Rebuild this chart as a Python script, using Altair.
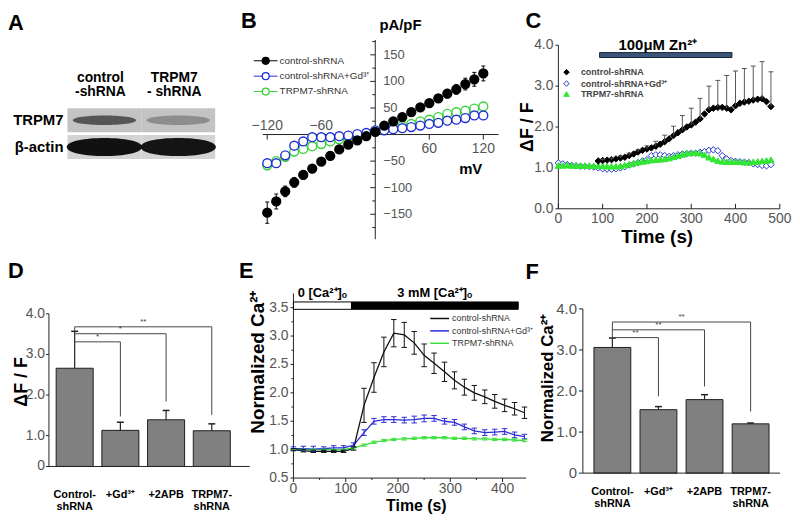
import altair as alt
import pandas as pd

FONT = "Liberation Sans"
INK = "#222222"
GREY = "#555555"

# ======================= data =======================
# A: western blot
blot_lanes = ["control\n-shRNA", "TRPM7\n- shRNA"]
blot_rows = ["TRPM7", "β-actin"]
blot_trpm7_density = [0.62, 0.30]
blot_actin_density = [0.97, 0.95]

# B: I-V relation
iv_names = ["control-shRNA", "control-shRNA+Gd³⁺", "TRPM7-shRNA"]
iv_mv = [-120, -110, -100, -90, -80, -70, -60, -50, -40, -30, -20, -10, 0,
         10, 20, 30, 40, 50, 60, 70, 80, 90, 100, 110, 120]
iv_ctrl = [-147, -126, -107, -90, -76, -64, -51, -40, -28, -19, -11, -3, 5,
           17, 25, 33, 42, 51, 59, 68, 77, 85, 95, 104, 115]
iv_ctrl_err = [20, 14, 10, 9, 8, 6, 5, 4, 3, 3, 2, 2, 2, 2, 3, 3, 4, 4, 5, 7, 8, 9, 11, 13, 14]
iv_gd = [-54, -54, -39, -21, -13, -5, -5, -5, -3, -2, 1, 3, 8,
         8, 10, 12, 14, 17, 20, 22, 26, 28, 31, 36, 36]
iv_gd_err = [6, 5, 4, 3, 3, 2, 2, 2, 2, 2, 2, 2, 2, 2, 2, 2, 2, 2, 2, 3, 3, 3, 3, 3, 4]
iv_trpm7 = [-58, -50, -42, -32, -27, -22, -18, -13, -9, -6, -3, 1, 6,
            11, 14, 16, 20, 25, 28, 33, 39, 42, 45, 49, 53]
iv_trpm7_err = [8, 6, 5, 4, 3, 3, 2, 2, 2, 2, 2, 2, 2, 2, 2, 2, 2, 2, 3, 3, 3, 3, 3, 4, 4]
iv_yticks = [-150, -100, -50, 50, 100, 150]
iv_yminor = [-175, -125, -75, -25, 25, 75, 125, 175]
iv_xlabels_above = [-120, -60]
iv_xlabels_below = [60, 120]
iv_units = ["pA/pF", "mV"]
iv_units_mv = [28, 106]
iv_units_pa = [206, -64]

# C: Zn2+ induced fluorescence
c_names = ["control-shRNA", "control-shRNA+Gd³⁺", "TRPM7-shRNA"]
c_t = [0, 10, 20, 30, 40, 50, 60, 70, 80, 90, 100, 110, 120, 130, 140, 150, 160, 170, 180, 190,
       200, 210, 220, 230, 240, 250, 260, 270, 280, 290, 300, 310, 320, 330, 340, 350, 360, 370,
       380, 390, 400, 410, 420, 430, 440, 450, 460, 470, 480]
c_gd = [1.12, 1.10, 1.08, 1.06, 1.05, 1.04, 1.04, 1.03, 1.02, 1.00, 0.98, 0.97, 0.97, 0.98, 1.00,
        1.03, 1.07, 1.10, 1.13, 1.17, 1.20, 1.30, 1.32, 1.32, 1.30, 1.28, 1.30, 1.32, 1.34, 1.35,
        1.36, 1.36, 1.38, 1.40, 1.43, 1.44, 1.42, 1.30, 1.22, 1.18, 1.16, 1.15, 1.14, 1.13, 1.10,
        1.08, 1.06, 1.05, 1.08]
c_trpm7 = [1.06, 1.06, 1.07, 1.06, 1.06, 1.06, 1.06, 1.06, 1.05, 1.05, 1.05, 1.04, 1.04, 1.04,
           1.05, 1.07, 1.09, 1.12, 1.14, 1.16, 1.17, 1.19, 1.20, 1.21, 1.22, 1.24, 1.27, 1.30,
           1.33, 1.36, 1.37, 1.37, 1.36, 1.32, 1.26, 1.22, 1.18, 1.16, 1.15, 1.15, 1.15, 1.15,
           1.14, 1.14, 1.15, 1.16, 1.17, 1.18, 1.20]
c_ctrl_t = [90, 100, 110, 120, 130, 140, 150, 160, 170, 180, 190, 200, 210, 220, 230, 240, 250,
            260, 270, 280, 290, 300, 310, 320, 330, 340, 350, 360, 370, 380, 390, 400, 410, 420,
            430, 440, 450, 460, 470, 480]
c_ctrl = [1.17, 1.18, 1.19, 1.20, 1.22, 1.24, 1.26, 1.30, 1.34, 1.39, 1.43, 1.46, 1.49, 1.53,
          1.58, 1.64, 1.71, 1.79, 1.86, 1.93, 2.00, 2.05, 2.12, 2.20, 2.32, 2.42, 2.46, 2.48,
          2.48, 2.46, 2.42, 2.52, 2.58, 2.61, 2.63, 2.66, 2.68, 2.69, 2.62, 2.50]
c_err_t = [100, 120, 140, 160, 180, 200, 220, 240, 260, 280, 300, 320, 340, 360, 380, 400, 420,
           440, 460, 480]
c_err_top = [1.21, 1.24, 1.29, 1.36, 1.45, 1.54, 1.65, 1.80, 2.02, 2.28, 2.46, 2.70, 3.00, 3.14,
             3.26, 3.37, 3.43, 3.49, 3.60, 3.35]
c_zn = {"start": [93], "end": [392], "label": ["100μM Zn²⁺"]}
c_xticks = [0, 100, 200, 300, 400, 500]
c_xlabels = ["0", "100", "200", "300", "400", "500"]
c_yticks = [0, 1, 2, 3, 4]
c_ylabels = ["0.0", "1.0", "2.0", "3.0", "4.0"]

# D / F: summaries
bar_cats = ["Control-\nshRNA", "+Gd³⁺", "+2APB", "TRPM7-\nshRNA"]
d_vals = [2.66, 1.13, 1.39, 1.12]
d_tops = [3.57, 1.33, 1.62, 1.29]
d_br_targets = ["+Gd³⁺", "+2APB", "TRPM7-\nshRNA"]
d_br_levels = [3.31, 3.51, 3.68]
d_br_ends = [1.47, 1.84, 1.51]
d_br_marks = ["*", "*", "**"]
d_yticks = [0.24, 1, 2, 3, 4]
d_ylabels = ["0", "1.0", "2.0", "3.0", "4.0"]

f_vals = [3.06, 1.545, 1.79, 1.20]
f_tops = [3.29, 1.62, 1.91, 1.22]
f_br_targets = ["+Gd³⁺", "+2APB", "TRPM7-\nshRNA"]
f_br_levels = [3.30, 3.49, 3.68]
f_br_ends = [1.87, 2.11, 1.50]
f_br_marks = ["**", "**", "**"]
f_yticks = [0, 1, 2, 3, 4]
f_ylabels = ["0", "1.0", "2.0", "3.0", "4.0"]

# E: Ca2+ add-back
e_names = ["control-shRNA", "control-shRNA+Gd³⁺", "TRPM7-shRNA"]
e_t = [0, 19, 38, 58, 77, 96, 115, 135, 154, 173, 192, 212, 231, 250, 269, 289, 308, 327, 346,
       366, 385, 404, 423, 442]
e_ctrl = [1.00, 0.98, 0.97, 0.97, 0.97, 0.97, 1.02, 1.78, 2.27, 2.72, 3.05, 3.02, 2.88, 2.66,
          2.52, 2.37, 2.22, 2.10, 2.00, 1.93, 1.85, 1.78, 1.72, 1.65]
e_ctrl_err = [0.02, 0.02, 0.02, 0.02, 0.02, 0.02, 0.03, 0.30, 0.26, 0.26, 0.24, 0.22, 0.20, 0.20,
              0.18, 0.17, 0.15, 0.14, 0.13, 0.12, 0.12, 0.11, 0.11, 0.10]
e_gd = [1.02, 1.02, 1.01, 1.02, 1.03, 1.03, 1.08, 1.30, 1.50, 1.53, 1.53, 1.52, 1.53, 1.55, 1.55,
        1.50, 1.48, 1.40, 1.33, 1.30, 1.31, 1.32, 1.26, 1.23]
e_gd_err = [0.03, 0.04, 0.05, 0.03, 0.04, 0.04, 0.04, 0.05, 0.05, 0.05, 0.05, 0.05, 0.06, 0.06,
            0.05, 0.05, 0.05, 0.05, 0.05, 0.05, 0.05, 0.05, 0.05, 0.04]
e_trpm7 = [1.00, 1.00, 1.00, 1.00, 1.00, 1.00, 1.03, 1.08, 1.13, 1.16, 1.18, 1.19, 1.20, 1.21,
           1.21, 1.21, 1.20, 1.20, 1.19, 1.19, 1.18, 1.18, 1.17, 1.16]
e_trpm7_err = [0.01, 0.01, 0.01, 0.01, 0.01, 0.01, 0.02, 0.02, 0.02, 0.02, 0.02, 0.02, 0.02,
               0.02, 0.02, 0.02, 0.02, 0.02, 0.02, 0.02, 0.02, 0.02, 0.02, 0.02]
e_cond = {"start": [0, 111], "end": [111, 430],
          "kind": ["0 [Ca²⁺]ₒ", "3 mM  [Ca²⁺]ₒ"]}
e_xticks = [0, 100, 200, 300, 400]
e_xlabels = ["0", "100", "200", "300", "400"]
e_xminor = [50, 150, 250, 350]
e_yticks = [0.5, 1.0, 1.5, 2.0, 2.5, 3.0, 3.5]
e_ylabels = ["0.5", "1.0", "1.5", "2.0", "2.5", "3.0", "3.5"]
e_yminor = [0.75, 1.25, 1.75, 2.25, 2.75, 3.25]

SERIES_STROKE = ["#000000", "#1f2fd2", "#36d236"]


# ======================= helpers =======================
def letter(txt, px, py):
    return alt.Chart(pd.DataFrame({"t": [txt]})).mark_text(
        align="left", baseline="top", font=FONT, fontSize=22, fontWeight="bold", color="black").encode(
        x=alt.value(px), y=alt.value(py), text="t:N")


def title_text(txt, px, py, size, angle=0):
    return alt.Chart(pd.DataFrame({"t": [txt]})).mark_text(
        align="center", baseline="middle", angle=angle, font=FONT, fontSize=size, fontWeight="bold",
        color="black").encode(x=alt.value(px), y=alt.value(py), text="t:N")


def axis_layers(X, Y, xdom, ydom, xt, xl, yt, yl, xtick=4, xtick_out=True, ytick=4,
                lab_size=14, xpad=2, ypad=2, xminor=None, yminor=None):
    fr = pd.DataFrame({"x0": [xdom[0]], "x1": [xdom[1]], "y0": [ydom[0]], "y1": [ydom[1]]})
    lay = [alt.Chart(fr).mark_rule(color=INK, strokeWidth=1).encode(x=X("x0"), x2=alt.X2("x1"), y=Y("y0")),
           alt.Chart(fr).mark_rule(color=INK, strokeWidth=1).encode(x=X("x0"), y=Y("y0"), y2=alt.Y2("y1"))]
    xdf = pd.DataFrame({"v": xt, "lab": xl, "y0": ydom[0]})
    ydf = pd.DataFrame({"v": yt, "lab": yl, "x0": xdom[0]})
    sign = 1 if xtick_out else -1
    if xtick:
        lay.append(alt.Chart(xdf).mark_point(shape="stroke", angle=90, size=xtick * xtick, color=INK,
                                             opacity=1, strokeWidth=1, yOffset=sign * xtick / 2).encode(
            x=X("v"), y=Y("y0")))
    if xminor:
        mdf = pd.DataFrame({"v": xminor, "y0": ydom[0]})
        lay.append(alt.Chart(mdf).mark_point(shape="stroke", angle=90, size=4, color=INK, opacity=1,
                                             strokeWidth=1, yOffset=sign * 1).encode(x=X("v"), y=Y("y0")))
    lay.append(alt.Chart(xdf).mark_text(baseline="top", align="center", dy=(xtick if xtick_out else 0) + xpad,
                                        font=FONT, fontSize=lab_size, color=GREY).encode(
        x=X("v"), y=Y("y0"), text="lab:N"))
    if ytick:
        lay.append(alt.Chart(ydf).mark_point(shape="stroke", size=ytick * ytick, color=INK, opacity=1,
                                             strokeWidth=1, xOffset=-ytick / 2).encode(x=X("x0"), y=Y("v")))
    if yminor:
        mdf = pd.DataFrame({"v": yminor, "x0": xdom[0]})
        lay.append(alt.Chart(mdf).mark_point(shape="stroke", size=4, color=INK, opacity=1,
                                             strokeWidth=1, xOffset=-1).encode(x=X("x0"), y=Y("v")))
    lay.append(alt.Chart(ydf).mark_text(baseline="middle", align="right", dx=-(ytick + ypad),
                                        font=FONT, fontSize=lab_size, color=GREY).encode(
        x=X("x0"), y=Y("v"), text="lab:N"))
    return lay


# ======================= panel A =======================
blot_df = pd.DataFrame({
    "lane": blot_lanes * 2,
    "row": [blot_rows[0]] * 2 + [blot_rows[1]] * 2,
    "dark": blot_trpm7_density + blot_actin_density,
})
lane_sc = alt.Scale(type="band", domain=blot_lanes, range=[60, 209], paddingInner=0, paddingOuter=0)
row_sc = alt.Scale(type="band", domain=blot_rows, range=[98, 149], paddingInner=0.11, paddingOuter=0)
a_x = alt.X("lane:N", scale=lane_sc, sort=blot_lanes, axis=None)
a_y = alt.Y("row:N", scale=row_sc, sort=blot_rows, axis=None)
strip = alt.Chart(blot_df).mark_rect().encode(
    x=a_x, y=a_y,
    fill=alt.Fill("row:N", scale=alt.Scale(domain=blot_rows, range=["#c3c3c3", "#d3d3d3"]), legend=None))
ELL_THIN = "M-1,0C-1,-0.2,1,-0.2,1,0C1,0.2,-1,0.2,-1,0Z"
ELL_THICK = "M-1,0C-1,-0.32,1,-0.32,1,0C1,0.32,-1,0.32,-1,0Z"
band_t = alt.Chart(blot_df).transform_filter(alt.datum.row == blot_rows[0]).mark_point(
    shape=ELL_THIN, filled=True, size=64 * 64, color="#111111", strokeWidth=0).encode(
    x=a_x, y=a_y, opacity=alt.Opacity("dark:Q", scale=None))
band_a = alt.Chart(blot_df).transform_filter(alt.datum.row == blot_rows[1]).mark_point(
    shape=ELL_THICK, filled=True, size=76 * 76, color="#0a0a0a", strokeWidth=0).encode(
    x=a_x, y=a_y, opacity=alt.Opacity("dark:Q", scale=None))
lane_lab = alt.Chart(pd.DataFrame({"lane": blot_lanes})).mark_text(
    align="center", baseline="top", lineBreak="\n", lineHeight=15, font=FONT, fontSize=14,
    fontWeight="bold", color="black", dx=-4).encode(x=a_x, y=alt.value(60), text="lane:N")
row_lab = alt.Chart(pd.DataFrame({"row": blot_rows})).mark_text(
    align="right", baseline="middle", font=FONT, fontSize=15, fontWeight="bold", color="black").encode(
    x=alt.value(56), y=a_y, text="row:N")
panel_a = alt.layer(strip, band_t, band_a, lane_lab, row_lab, letter("A", 0, 2)).properties(
    width=262, height=250)

# ======================= panel B =======================
BX_DOM = [-125, 137]
BY_DOM = [-197, 178]
BX = alt.Scale(domain=BX_DOM, range=[-5, 233], nice=False, zero=False)
BY = alt.Scale(domain=BY_DOM, range=[230, 29], nice=False, zero=False)


def bx(f):
    return alt.X(f, type="quantitative", scale=BX, axis=None)


def by(f):
    return alt.Y(f, type="quantitative", scale=BY, axis=None)


b_rows = []
for name, vals, errs in [(iv_names[2], iv_trpm7, iv_trpm7_err), (iv_names[1], iv_gd, iv_gd_err),
                         (iv_names[0], iv_ctrl, iv_ctrl_err)]:
    for mv, v, e in zip(iv_mv, vals, errs):
        b_rows.append({"mv": mv, "val": v, "lo": v - e, "hi": v + e, "series": name})
b_df = pd.DataFrame(b_rows)
b_frame = pd.DataFrame({"x0": [BX_DOM[0]], "x1": [BX_DOM[1]], "y0": [BY_DOM[0]], "y1": [BY_DOM[1]],
                        "zero": [0]})

b_xline = alt.Chart(b_frame).mark_rule(color=INK, strokeWidth=1).encode(x=bx("x0"), x2="x1", y=by("zero"))
b_yline = alt.Chart(b_frame).mark_rule(color=INK, strokeWidth=1).encode(x=bx("zero"), y=by("y0"), y2="y1")
b_yt_df = pd.DataFrame({"v": iv_yticks, "zero": 0})
b_ym_df = pd.DataFrame({"v": iv_yminor, "zero": 0})
b_ytk = alt.Chart(b_yt_df).mark_point(shape="stroke", size=25, color=INK, opacity=1, strokeWidth=1,
                                      xOffset=-2.5).encode(x=bx("zero"), y=by("v"))
b_ymn = alt.Chart(b_ym_df).mark_point(shape="stroke", size=9, color=INK, opacity=1, strokeWidth=1,
                                      xOffset=-1.5).encode(x=bx("zero"), y=by("v"))
b_ylab = alt.Chart(b_yt_df).mark_text(align="left", baseline="middle", dx=8, font=FONT, fontSize=13,
                                      color=GREY).encode(x=bx("zero"), y=by("v"), text=alt.Text("v:Q"))
b_xa_df = pd.DataFrame({"v": iv_xlabels_above, "zero": 0})
b_xb_df = pd.DataFrame({"v": iv_xlabels_below, "zero": 0})
b_xlab_a = alt.Chart(b_xa_df).mark_text(align="center", baseline="bottom", dy=-2, font=FONT, fontSize=14,
                                        color=GREY).encode(x=bx("v"), y=by("zero"), text=alt.Text("v:Q"))
b_xlab_b = alt.Chart(b_xb_df).mark_text(align="center", baseline="top", dy=8, font=FONT, fontSize=14,
                                        color=GREY).encode(x=bx("v"), y=by("zero"), text=alt.Text("v:Q"))
b_xtk = alt.Chart(pd.concat([b_xa_df, b_xb_df], ignore_index=True)).mark_point(
    shape="stroke", angle=90, size=25, color=INK, opacity=1, strokeWidth=1, yOffset=2.5).encode(
    x=bx("v"), y=by("zero"))
b_units_df = pd.DataFrame({"t": iv_units, "ux": iv_units_mv, "uy": iv_units_pa})
b_units = alt.Chart(b_units_df).mark_text(font=FONT, fontSize=15, fontWeight="bold", color="black").encode(
    x=bx("ux"), y=by("uy"), text="t:N")

b_color = alt.Color("series:N", scale=alt.Scale(domain=iv_names, range=SERIES_STROKE), legend=None)
b_stroke = alt.Stroke("series:N", scale=alt.Scale(domain=iv_names, range=SERIES_STROKE), legend=None)
b_fill = alt.Fill("series:N", scale=alt.Scale(domain=iv_names, range=["#000000", "#ffffff", "#ffffff"]),
                  legend=None)
b_err = alt.Chart(b_df).mark_rule(strokeWidth=1).encode(x=bx("mv"), y=by("lo"), y2="hi", color=b_color)
b_cap1 = alt.Chart(b_df).mark_point(shape="stroke", size=16, opacity=1, strokeWidth=1).encode(
    x=bx("mv"), y=by("lo"), color=b_color)
b_cap2 = alt.Chart(b_df).mark_point(shape="stroke", size=16, opacity=1, strokeWidth=1).encode(
    x=bx("mv"), y=by("hi"), color=b_color)
b_pts = alt.Chart(b_df).mark_point(size=80, strokeWidth=1.4, opacity=1).encode(
    x=bx("mv"), y=by("val"), stroke=b_stroke, fill=b_fill)

LEGY = alt.Scale(type="point", domain=iv_names, range=[50, 81], padding=0)
b_leg_df = pd.DataFrame({"series": iv_names})
b_leg_y = alt.Y("series:N", scale=LEGY, axis=None, sort=iv_names)
b_leg_line = alt.Chart(b_leg_df).mark_rule(strokeWidth=1).encode(
    x=alt.value(-14), x2=alt.value(10), y=b_leg_y, color=b_color)
b_leg_pt = alt.Chart(b_leg_df).mark_point(size=49, strokeWidth=1.3, opacity=1).encode(
    x=alt.value(-2), y=b_leg_y, stroke=b_stroke, fill=b_fill)
b_leg_txt = alt.Chart(b_leg_df).mark_text(align="left", baseline="middle", font=FONT, fontSize=10,
                                          color="#333333").encode(x=alt.value(12), y=b_leg_y, text="series:N")
b_main = alt.layer(b_xline, b_yline, b_ytk, b_ymn, b_xtk, b_ylab, b_xlab_a, b_xlab_b, b_units,
                   b_err, b_cap1, b_cap2, b_pts)
b_legend = alt.layer(b_leg_line, b_leg_pt, b_leg_txt)
panel_b = alt.layer(b_main, b_legend, letter("B", -27, 0)).resolve_scale(y="independent").properties(
    width=260, height=250)

# ======================= panel C =======================
CX = alt.Scale(domain=[0, 500], range=[33.3, 256.7], nice=False, zero=False)
CY = alt.Scale(domain=[0, 4], range=[199.3, 34.3], nice=False, zero=False)
c_rows = []
for t, v in zip(c_t, c_gd):
    c_rows.append({"t": t, "val": v, "series": c_names[1]})
for t, v in zip(c_t, c_trpm7):
    c_rows.append({"t": t, "val": v, "series": c_names[2]})
for t, v in zip(c_ctrl_t, c_ctrl):
    c_rows.append({"t": t, "val": v, "series": c_names[0]})
c_df = pd.DataFrame(c_rows)
ctrl_lookup = dict(zip(c_ctrl_t, c_ctrl))
c_err_df = pd.DataFrame({"t": c_err_t, "top": c_err_top, "mean": [ctrl_lookup[t] for t in c_err_t]})
zn_df = pd.DataFrame(c_zn)
zn_df["mid"] = (zn_df["start"] + zn_df["end"]) / 2


def cx(f):
    return alt.X(f, type="quantitative", scale=CX, axis=None)


def cy(f):
    return alt.Y(f, type="quantitative", scale=CY, axis=None)


c_leg = alt.Legend(orient="none", legendX=37, legendY=57, title=None, symbolSize=30,
                   symbolStrokeWidth=1, labelFont=FONT, labelFontSize=9, labelFontWeight="bold",
                   labelColor="#444444", labelOffset=10, rowPadding=0.5, padding=0)
c_pts = alt.Chart(c_df).mark_point(size=42, strokeWidth=1, opacity=1).encode(
    x=cx("t"), y=cy("val"),
    stroke=alt.Stroke("series:N", scale=alt.Scale(domain=c_names, range=["#000000", "#2233cc", "#33e633"]),
                      legend=c_leg),
    fill=alt.Fill("series:N", scale=alt.Scale(domain=c_names, range=["#000000", "#ffffff", "#33e633"]),
                  legend=c_leg),
    shape=alt.Shape("series:N", scale=alt.Scale(domain=c_names, range=["diamond", "diamond", "triangle-up"]),
                    legend=c_leg))
c_err = alt.Chart(c_err_df).mark_rule(color="#555555", strokeWidth=1).encode(
    x=cx("t"), y=cy("mean"), y2="top")
c_cap = alt.Chart(c_err_df).mark_point(shape="stroke", size=25, color="#555555", opacity=1,
                                       strokeWidth=1).encode(x=cx("t"), y=cy("top"))
c_bar = alt.Chart(zn_df).mark_rect(fill="#3b5578", stroke="#17253a", strokeWidth=1).encode(
    x=cx("start"), x2="end", y=alt.datum(3.70), y2=alt.datum(3.82))
c_lab = alt.Chart(zn_df).mark_text(font=FONT, fontSize=15, fontWeight="bold", color="black", dx=-8,
                                   baseline="middle").encode(x=cx("mid"), y=alt.datum(4.0), text="label:N")
c_axes = axis_layers(cx, cy, [0, 500], [0, 4], c_xticks, c_xlabels, c_yticks, c_ylabels,
                     xtick=5, xtick_out=False, ytick=3, lab_size=14, xpad=3, ypad=2)
panel_c = alt.layer(*c_axes, c_pts, c_err, c_cap, c_bar, c_lab,
                    title_text("ΔF / F", 3, 117, 18, angle=270),
                    title_text("Time (s)", 133, 228, 19),
                    letter("C", 0, 0)).properties(width=262, height=250)


# ======================= panels D & F =======================
def bar_panel(ltr, vals, tops, tgts, levels, ends, marks, ydom, yrange, xrange, pin, pout, palign,
              yticks, ylabels, width, height, ytitle, ytitle_size, ytitle_pos, xlab_pad, ylab_size,
              ytick, ypad, letter_pos):
    bdf = pd.DataFrame({"cat": bar_cats, "val": vals, "top": tops, "y0": ydom[0]})
    xs = alt.Scale(type="band", domain=bar_cats, range=xrange, paddingInner=pin, paddingOuter=pout,
                   align=palign)
    ys = alt.Scale(domain=ydom, range=yrange, nice=False, zero=False)
    step = (xrange[1] - xrange[0]) / (len(bar_cats) - pin + 2 * pout)

    def X(f):
        return alt.X(f, type="nominal", scale=xs, sort=bar_cats, axis=None)

    def Y(f):
        return alt.Y(f, type="quantitative", scale=ys, axis=None)

    fr = pd.DataFrame({"y0": [ydom[0]], "y1": [ydom[1]]})
    xline = alt.Chart(fr).mark_rule(color=INK, strokeWidth=1).encode(
        x=alt.value(xrange[0]), x2=alt.value(xrange[1]), y=Y("y0"))
    yline = alt.Chart(fr).mark_rule(color=INK, strokeWidth=1).encode(
        x=alt.value(xrange[0]), y=Y("y0"), y2=alt.Y2("y1"))
    tdf = pd.DataFrame({"v": yticks, "lab": ylabels})
    ytk = alt.Chart(tdf).mark_point(shape="stroke", size=ytick * ytick, color=INK, opacity=1,
                                    strokeWidth=1, xOffset=xrange[0] - ytick / 2).encode(
        x=alt.value(0), y=Y("v"))
    ylab = alt.Chart(tdf).mark_text(align="right", baseline="middle", font=FONT, fontSize=ylab_size,
                                    color=GREY, dx=-(ytick + ypad)).encode(
        x=alt.value(xrange[0]), y=Y("v"), text="lab:N")
    xlab = alt.Chart(bdf).mark_text(align="center", baseline="middle", lineBreak="\n", lineHeight=12,
                                    font=FONT, fontSize=11, fontWeight="bold", color="black",
                                    dy=xlab_pad).encode(x=X("cat"), y=Y("y0"), text="cat:N")

    bars = alt.Chart(bdf).mark_bar(fill="#808080", stroke="#1e1e1e", strokeWidth=1).encode(
        x=X("cat"), y=Y("val"), y2=alt.Y2("y0"))
    err = alt.Chart(bdf).mark_rule(color=INK, strokeWidth=1.2).encode(x=X("cat"), y=Y("val"), y2="top")
    cap = alt.Chart(bdf).mark_point(shape="stroke", size=49, color=INK, opacity=1, strokeWidth=1.5).encode(
        x=X("cat"), y=Y("top"))
    brdf = pd.DataFrame({"src": bar_cats[0], "tgt": tgts, "level": levels, "end": ends, "mark": marks})
    stem_df = pd.DataFrame({"cat": [bar_cats[0]], "top": [tops[0]], "high": [max(levels)]})
    h_rule = alt.Chart(brdf).mark_rule(color="#444444", strokeWidth=1).encode(
        x=X("src"), x2=alt.X2("tgt"), y=Y("level"))
    v_rule = alt.Chart(brdf).mark_rule(color="#444444", strokeWidth=1).encode(
        x=X("tgt"), y=Y("level"), y2="end")
    stem = alt.Chart(stem_df).mark_rule(color="#444444", strokeWidth=1).encode(
        x=X("cat"), y=Y("top"), y2="high")
    layers = [bars, err, cap, h_rule, v_rule, stem, xline, yline, ytk, ylab, xlab]
    for i in range(len(tgts)):
        idx = bar_cats.index(tgts[i])
        layers.append(alt.Chart(brdf.iloc[[i]]).mark_text(
            font=FONT, fontSize=8, color="#444444", baseline="bottom", dy=-1,
            dx=-(idx * step) / 2).encode(x=X("tgt"), y=Y("level"), text="mark:N"))
    layers.append(title_text(ytitle, ytitle_pos[0], ytitle_pos[1], ytitle_size, angle=270))
    layers.append(letter(ltr, letter_pos[0], letter_pos[1]))
    return alt.layer(*layers).properties(width=width, height=height)


panel_d = bar_panel("D", d_vals, d_tops, d_br_targets, d_br_levels, d_br_ends, d_br_marks,
                    ydom=[0.24, 4.0], yrange=[209.3, 55.3], xrange=[41.3, 244], pin=0.19, pout=0.293,
                    palign=0.27, yticks=d_yticks, ylabels=d_ylabels, width=262, height=254,
                    ytitle="ΔF / F", ytitle_size=18, ytitle_pos=(14, 124), xlab_pad=29, ylab_size=14,
                    ytick=3, ypad=1, letter_pos=(0, 2))
panel_f = bar_panel("F", f_vals, f_tops, f_br_targets, f_br_levels, f_br_ends, f_br_marks,
                    ydom=[0, 4.0], yrange=[216, 50.3], xrange=[58, 257], pin=0.2, pout=0.24,
                    palign=0.5, yticks=f_yticks, ylabels=f_ylabels, width=262, height=254,
                    ytitle="Normalized Ca²⁺", ytitle_size=17, ytitle_pos=(23, 120), xlab_pad=19,
                    ylab_size=15, ytick=4, ypad=2, letter_pos=(0, 3))

# ======================= panel E =======================
EX = alt.Scale(domain=[0, 445], range=[26, 260.7], nice=False, zero=False)
EY = alt.Scale(domain=[0.5, 3.75], range=[221, 34.7], nice=False, zero=False)
e_rows = []
for name, vals, errs in [(e_names[2], e_trpm7, e_trpm7_err), (e_names[1], e_gd, e_gd_err),
                         (e_names[0], e_ctrl, e_ctrl_err)]:
    for t, v, e in zip(e_t, vals, errs):
        e_rows.append({"t": t, "val": v, "lo": v - e, "hi": v + e, "series": name})
e_df = pd.DataFrame(e_rows)
cond_df = pd.DataFrame(e_cond)
cond_df["mid"] = (cond_df["start"] + cond_df["end"]) / 2


def ex(f):
    return alt.X(f, type="quantitative", scale=EX, axis=None)


def ey(f):
    return alt.Y(f, type="quantitative", scale=EY, axis=None)


E_COLORS = ["#111111", "#2a2ad8", "#3ce03c"]
e_color = alt.Color("series:N", scale=alt.Scale(domain=e_names, range=E_COLORS), legend=None)
e_lines = alt.Chart(e_df).mark_line(strokeWidth=1.3).encode(x=ex("t"), y=ey("val"), color=e_color)
e_err = alt.Chart(e_df).mark_rule(strokeWidth=1).encode(x=ex("t"), y=ey("lo"), y2="hi", color=e_color)
e_cap1 = alt.Chart(e_df).mark_point(shape="stroke", size=30, opacity=1, strokeWidth=1).encode(
    x=ex("t"), y=ey("lo"), color=e_color)
e_cap2 = alt.Chart(e_df).mark_point(shape="stroke", size=30, opacity=1, strokeWidth=1).encode(
    x=ex("t"), y=ey("hi"), color=e_color)
e_cond_bar = alt.Chart(cond_df).mark_rect(stroke="black", strokeWidth=1).encode(
    x=ex("start"), x2="end", y=alt.datum(3.47), y2=alt.datum(3.6),
    fill=alt.Fill("kind:N", scale=alt.Scale(domain=e_cond["kind"], range=["#ffffff", "#000000"]), legend=None))
e_cond_lab = alt.Chart(cond_df).mark_text(font=FONT, fontSize=13, fontWeight="bold", color="black",
                                          baseline="middle").encode(
    x=ex("mid"), y=alt.datum(3.76), text="kind:N")
e_axes = axis_layers(ex, ey, [0, 445], [0.5, 3.75], e_xticks, e_xlabels, e_yticks, e_ylabels,
                     xtick=4, xtick_out=True, ytick=3, lab_size=14, xpad=0, ypad=2,
                     xminor=e_xminor, yminor=e_yminor)
e_main = alt.layer(*e_axes, e_lines, e_err, e_cap1, e_cap2, e_cond_bar, e_cond_lab)

LEGY_E = alt.Scale(type="point", domain=e_names, range=[60, 85], padding=0)
e_leg_df = pd.DataFrame({"series": e_names})
e_leg_y = alt.Y("series:N", scale=LEGY_E, axis=None, sort=e_names)
e_leg_line = alt.Chart(e_leg_df).mark_rule(strokeWidth=1.5).encode(
    x=alt.value(164), x2=alt.value(183), y=e_leg_y, color=e_color)
e_leg_txt = alt.Chart(e_leg_df).mark_text(align="left", baseline="middle", font=FONT, fontSize=9,
                                          color="#333333").encode(x=alt.value(186), y=e_leg_y, text="series:N")
e_legend = alt.layer(e_leg_line, e_leg_txt)
panel_e = alt.layer(e_main, e_legend,
                    title_text("Normalized Ca²⁺", -10, 104, 19, angle=270),
                    title_text("Time (s)", 150, 249, 16),
                    letter("E", -29, 2)).resolve_scale(y="independent").properties(width=260, height=254)

# ======================= layout =======================
IND = dict(x="independent", y="independent", color="independent", fill="independent",
           stroke="independent", shape="independent", opacity="independent")
LEG = dict(color="independent", fill="independent", stroke="independent", shape="independent")
chart = alt.concat(panel_a, panel_b, panel_c, panel_d, panel_e, panel_f, columns=3, spacing=0,
                   bounds="flush").resolve_scale(**IND).resolve_legend(**LEG).properties(
    padding=0).configure_view(stroke=None)

chart.save("out.html", embed_options={"renderer": "svg", "actions": False})
